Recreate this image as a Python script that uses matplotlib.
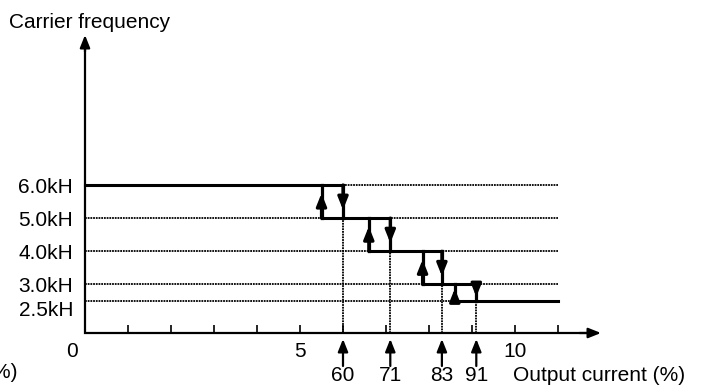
import matplotlib
matplotlib.use('Agg')  # no display
import matplotlib.pyplot as plt

plt.rcParams['font.family'] = ['Liberation Sans', 'DejaVu Sans']
plt.rcParams['font.size'] = 15

# carrier frequency steps (kHz)
levels = [6.0, 5.0, 4.0, 3.0, 2.5]
level_labels = ['6.0kH', '5.0kH', '4.0kH', '3.0kH', '2.5kH']

# output current (x10 %) where the carrier steps down / steps back up
step_down = [6.0, 7.1, 8.3, 9.1]
step_up = [5.5, 6.6, 7.85, 8.6]
down_labels = ['60', '71', '83', '91']

x_ticks = [1, 2, 3, 4, 5, 6, 7, 8, 9, 10, 11]
x_tick_labels = {0: '0', 5: '5', 10: '10'}
x_end = 11.0
x_arrow_end = 12.0

# figure layout in pixels
W, H = 704, 386
x0_px, px_per_x = 85, 43
y_ref, y_ref_px, px_per_khz = 2.5, 301, 33.14


def py(px):
    """pixel row -> data y"""
    return y_ref - (px - y_ref_px) / px_per_khz


def fx(px):
    return px / W


def fy(px):
    return 1 - px / H


fig = plt.figure(figsize=(W / 100, H / 100), dpi=100)
ax = fig.add_axes([0, 0, 1, 1])
ax.set_axis_off()
ax.set_xlim(-x0_px / px_per_x, (W - x0_px) / px_per_x)
ax.set_ylim(py(H), py(0))

axis_y = py(333)
y_top = py(35)

head = '-|>,head_length=0.75,head_width=0.3'


def arrow(x1, y1, x2, y2, lw=1.5):
    ax.annotate('', xy=(x2, y2), xytext=(x1, y1),
                arrowprops=dict(arrowstyle=head, lw=lw, color='black',
                                mutation_scale=10, shrinkA=0, shrinkB=0))


# axes with arrow heads
ax.plot([0, 0, x_arrow_end - 0.2], [y_top - 0.2, axis_y, axis_y],
        color='black', lw=1.6, solid_joinstyle='miter')
arrow(0, y_top - 0.5, 0, y_top, lw=1.6)
arrow(x_arrow_end - 0.5, axis_y, x_arrow_end, axis_y, lw=1.6)
ax.vlines(x_ticks, axis_y, py(325), color='black', lw=1.2)

dotted = (0, (1, 0.5))

# dotted guide lines for each level
for lvl in levels:
    ax.plot([0, x_end], [lvl, lvl], color='black', lw=1.3, linestyle=dotted)

# dotted drop lines at the step-down currents
for i, sd in enumerate(step_down):
    ax.plot([sd, sd], [axis_y, levels[i + 1]], color='black', lw=1.3, linestyle=dotted)

# thick hysteresis staircase
for i, lvl in enumerate(levels):
    start = 0 if i == 0 else step_up[i - 1]
    end = step_down[i] if i < len(step_down) else x_end
    ax.plot([start, end], [lvl, lvl], color='black', lw=2.2, solid_capstyle='projecting')

for i in range(len(step_down)):
    hi, lo = levels[i], levels[i + 1]
    ax.plot([step_up[i]] * 2, [lo, hi], color='black', lw=2.3)
    ax.plot([step_down[i]] * 2, [lo, hi], color='black', lw=2.3)
    arrow(step_up[i], lo, step_up[i], lo + 0.75 * (hi - lo), lw=2.3)
    arrow(step_down[i], hi, step_down[i], hi - 0.75 * (hi - lo), lw=2.3)

# arrows and labels under the axis
for sd, lab in zip(step_down, down_labels):
    arrow(sd, py(366), sd, py(339), lw=1.6)
    ax.text(sd, py(381), lab, ha='center', va='baseline')

# level labels
for lvl, lab in zip(levels, level_labels):
    extra = 8 if lab != '2.5kH' else 15
    ax.text(-12 / px_per_x, lvl - extra / px_per_khz, lab, ha='right', va='baseline')

# x tick labels
for xv, lab in x_tick_labels.items():
    xx = xv if xv else -13 / px_per_x
    ax.text(xx, py(357), lab, ha='center', va='baseline')

fig.text(fx(9), fy(28), 'Carrier frequency', ha='left', va='baseline')
fig.text(fx(513), fy(381), 'Output current (%)', ha='left', va='baseline')
fig.text(fx(18), fy(378), '(%)', ha='right', va='baseline')

plt.savefig('out.png', dpi=100)
plt.close()
